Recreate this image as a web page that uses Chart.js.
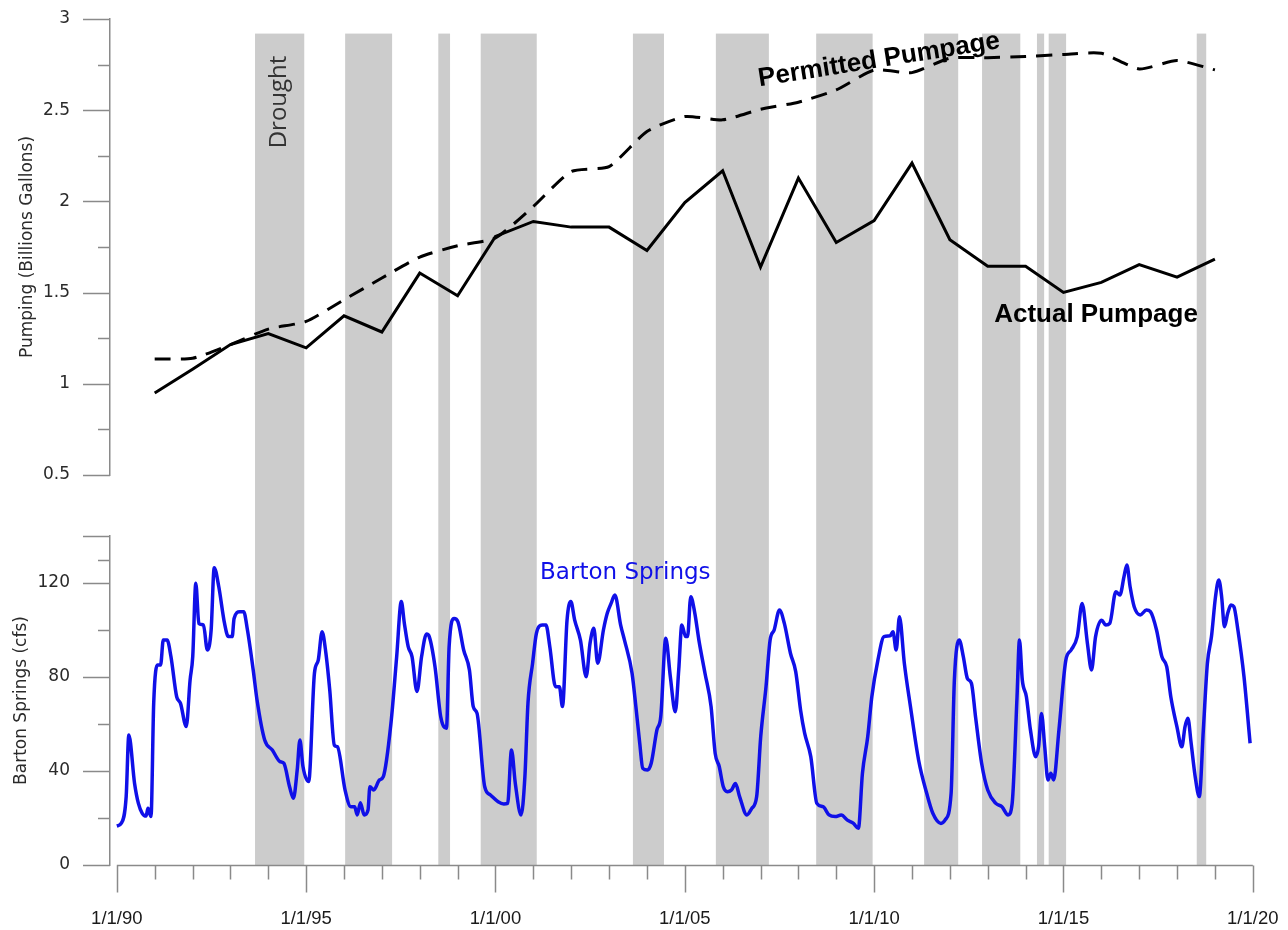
<!DOCTYPE html>
<html>
<head>
<meta charset="utf-8">
<title>Pumping and Barton Springs</title>
<script src="https://cdn.jsdelivr.net/npm/chart.js@4.4.1/dist/chart.umd.min.js"></script>
<style>
  html, body { margin: 0; padding: 0; background: #fff; }
  #wrap { position: relative; width: 1288px; height: 930px; }
</style>
</head>
<body>
<div id="wrap"><canvas id="chart" width="1288" height="930"></canvas></div>
<script>
// yearly pumpage (billions of gallons)
const pumpYears = [1991, 1992, 1993, 1994, 1995, 1996, 1997, 1998, 1999, 2000,
    2001, 2002, 2003, 2004, 2005, 2006, 2007, 2008, 2009, 2010,
    2011, 2012, 2013, 2014, 2015, 2016, 2017, 2018, 2019];
const actualPumpage = [0.95, 1.08, 1.215, 1.275, 1.197, 1.373, 1.284, 1.607, 1.483, 1.808,
    1.89, 1.859, 1.859, 1.731, 1.994, 2.168, 1.64, 2.128, 1.775, 1.895,
    2.21, 1.79, 1.644, 1.644, 1.501, 1.556, 1.653, 1.585, 1.684];
const permittedPumpage = [1.136, 1.14, 1.215, 1.30, 1.342, 1.461, 1.58, 1.695, 1.757, 1.80,
    1.972, 2.164, 2.191, 2.383, 2.465, 2.447, 2.505, 2.544, 2.611, 2.72,
    2.706, 2.785, 2.788, 2.794, 2.806, 2.812, 2.726, 2.772, 2.721];

// Barton Springs discharge (cfs)
const springYears = [
    1990.0, 1990.115, 1990.247, 1990.317, 1990.469, 1990.57, 1990.671, 1990.772, 1990.823, 1990.903,
    1990.974, 1991.075, 1991.156, 1991.227, 1991.328, 1991.429, 1991.581, 1991.682, 1991.834, 1991.935,
    1992.005, 1992.086, 1992.167, 1992.289, 1992.39, 1992.491, 1992.572, 1992.693, 1992.845, 1992.946,
    1993.047, 1993.097, 1993.249, 1993.35, 1993.45, 1993.602, 1993.703, 1993.905, 1994.107, 1994.309,
    1994.41, 1994.562, 1994.663, 1994.764, 1994.835, 1994.916, 1995.067, 1995.219, 1995.32, 1995.421,
    1995.522, 1995.623, 1995.745, 1995.826, 1996.028, 1996.18, 1996.28, 1996.351, 1996.432, 1996.533,
    1996.634, 1996.684, 1996.785, 1996.937, 1997.038, 1997.24, 1997.391, 1997.513, 1997.594, 1997.695,
    1997.796, 1997.927, 1998.049, 1998.18, 1998.251, 1998.403, 1998.554, 1998.706, 1998.776, 1998.908,
    1999.009, 1999.16, 1999.312, 1999.413, 1999.514, 1999.716, 1999.867, 2000.07, 2000.221, 2000.322,
    2000.423, 2000.524, 2000.676, 2000.777, 2000.858, 2000.98, 2001.081, 2001.233, 2001.334, 2001.435,
    2001.586, 2001.688, 2001.769, 2001.89, 2001.991, 2002.092, 2002.244, 2002.396, 2002.497, 2002.598,
    2002.699, 2002.851, 2002.952, 2003.053, 2003.154, 2003.306, 2003.407, 2003.607, 2003.708, 2003.81,
    2003.89, 2004.012, 2004.113, 2004.264, 2004.365, 2004.497, 2004.618, 2004.749, 2004.84, 2004.921,
    2005.022, 2005.073, 2005.157, 2005.265, 2005.372, 2005.533, 2005.694, 2005.802, 2005.909, 2006.017,
    2006.124, 2006.232, 2006.339, 2006.447, 2006.64, 2006.769, 2006.898, 2007.005, 2007.145, 2007.253,
    2007.36, 2007.5, 2007.629, 2007.79, 2007.929, 2008.058, 2008.166, 2008.327, 2008.488, 2008.649,
    2008.81, 2008.971, 2009.133, 2009.294, 2009.455, 2009.584, 2009.691, 2009.831, 2009.939, 2010.1,
    2010.261, 2010.422, 2010.497, 2010.583, 2010.669, 2010.798, 2010.959, 2011.174, 2011.389, 2011.55,
    2011.765, 2011.872, 2012.033, 2012.119, 2012.248, 2012.355, 2012.463, 2012.57, 2012.678, 2012.839,
    2013.0, 2013.215, 2013.376, 2013.537, 2013.645, 2013.774, 2013.838, 2013.913, 2014.021, 2014.128,
    2014.268, 2014.344, 2014.419, 2014.505, 2014.59, 2014.666, 2014.741, 2014.881, 2015.063, 2015.203,
    2015.364, 2015.493, 2015.633, 2015.74, 2015.848, 2016.009, 2016.116, 2016.223, 2016.384, 2016.492,
    2016.599, 2016.674, 2016.76, 2016.868, 2017.029, 2017.19, 2017.297, 2017.458, 2017.598, 2017.727,
    2017.835, 2017.996, 2018.125, 2018.211, 2018.286, 2018.372, 2018.479, 2018.587, 2018.694, 2018.801,
    2018.909, 2019.016, 2019.102, 2019.177, 2019.252, 2019.338, 2019.424, 2019.5, 2019.607, 2019.768,
    2019.929];
const springFlow = [
    16.6, 17.7, 29.1, 55.3, 34.7, 26.2, 22.0, 20.8, 24.1, 20.6,
    68.8, 85.1, 85.1, 95.7, 95.7, 88.7, 71.6, 68.8, 58.9, 78.7,
    88.7, 119.9, 102.8, 102.1, 91.5, 100.0, 126.5, 118.4, 102.8, 97.2,
    97.2, 104.9, 107.8, 107.8, 100.0, 83.0, 70.2, 53.2, 48.9, 44.0,
    43.3, 33.3, 28.4, 40.4, 53.2, 41.9, 35.5, 81.6, 87.2, 99.3,
    90.1, 74.5, 51.0, 50.3, 31.9, 24.8, 24.8, 21.3, 26.5, 21.3,
    23.4, 33.3, 31.9, 36.2, 37.6, 60.3, 88.7, 112.1, 102.8, 92.9,
    88.7, 73.8, 88.7, 98.3, 97.2, 84.4, 63.1, 58.2, 92.9, 104.9,
    103.5, 91.5, 83.0, 67.4, 64.5, 33.3, 29.8, 26.9, 26.0, 26.2,
    48.9, 34.7, 21.3, 37.6, 68.8, 85.8, 98.6, 102.1, 102.1, 92.9,
    75.9, 75.9, 67.4, 104.2, 112.1, 104.2, 95.7, 80.1, 94.3, 100.7,
    85.8, 100.0, 107.1, 111.3, 114.9, 102.1, 95.7, 81.6, 67.4, 51.8,
    41.1, 40.4, 43.3, 57.5, 63.1, 96.5, 80.1, 65.2, 83.0, 102.1,
    97.2, 97.2, 114.2, 107.1, 95.7, 81.6, 67.4, 47.5, 41.9, 33.3,
    31.2, 31.9, 34.7, 29.1, 21.3, 24.1, 29.1, 54.6, 75.9, 95.7,
    100.0, 108.5, 102.8, 90.1, 82.3, 65.9, 56.0, 46.1, 26.2, 24.8,
    21.3, 20.6, 21.3, 19.1, 17.7, 15.6, 39.0, 54.6, 71.6, 87.2,
    97.2, 97.5, 99.3, 91.5, 105.6, 85.8, 67.4, 44.7, 30.5, 22.0,
    17.7, 19.1, 30.5, 78.7, 95.7, 88.7, 79.4, 77.3, 63.1, 43.3,
    31.9, 26.2, 24.8, 21.3, 26.2, 71.6, 95.7, 78.7, 71.6, 57.5,
    46.1, 50.4, 64.5, 50.4, 36.2, 39.0, 36.2, 57.5, 87.2, 91.5,
    97.2, 111.3, 94.3, 83.0, 97.2, 104.2, 102.1, 102.8, 116.3, 114.9,
    122.7, 127.7, 118.4, 109.9, 106.4, 108.5, 107.8, 100.0, 88.7, 84.4,
    71.6, 58.9, 50.3, 58.9, 62.4, 51.8, 37.6, 29.1, 57.5, 85.8,
    97.2, 114.2, 121.3, 114.2, 101.4, 107.1, 110.6, 109.9, 100.0, 80.1,
    51.8];

// drought periods (decimal years)
const droughtStart = [1993.65, 1996.03, 1998.49, 1999.61, 2003.63, 2005.82, 2008.47, 2011.32, 2012.85, 2014.30, 2014.61, 2018.52];
const droughtEnd   = [1994.95, 1997.27, 1998.80, 2001.09, 2004.45, 2007.22, 2009.96, 2012.22, 2013.86, 2014.49, 2015.07, 2018.77];

// tick labels
const xTickYears = [1990, 1995, 2000, 2005, 2010, 2015, 2020];
const pumpTicks = [0.5, 1, 1.5, 2, 2.5, 3];
const springTicks = [0, 40, 80, 120];

const axisGray = '#8a8a8a';
const textGray = '#2a2a2a';
const springBlue = '#1010e8';

function pairs(xs, ys) {
    return xs.map((x, i) => ({x: x, y: ys[i]}));
}

// shaded drought bars, through both panels
const droughtBands = {
    id: 'droughtBands',
    beforeDatasetsDraw(chart) {
        const {ctx, scales} = chart;
        const top = scales.yPump.getPixelForValue(2.92);
        const bottom = scales.ySpring.getPixelForValue(0);
        ctx.save();
        ctx.fillStyle = '#cccccc';
        droughtStart.forEach((s, i) => {
            const x1 = scales.x.getPixelForValue(s);
            const x2 = scales.x.getPixelForValue(droughtEnd[i]);
            ctx.fillRect(x1, top, x2 - x1, bottom - top);
        });
        ctx.restore();
    }
};

// major / minor tick marks and the bottom axis line
const axisTicks = {
    id: 'axisTicks',
    afterDraw(chart) {
        const {ctx, scales} = chart;
        const xs = scales.x;
        const base = scales.ySpring.getPixelForValue(0) + 0.5;
        ctx.save();
        ctx.strokeStyle = axisGray;
        ctx.lineWidth = 1.5;
        ctx.beginPath();
        ctx.moveTo(xs.getPixelForValue(1990), base);
        ctx.lineTo(xs.getPixelForValue(2020), base);
        for (let yr = 1990; yr <= 2020; yr++) {
            const px = Math.round(xs.getPixelForValue(yr)) + 0.5;
            ctx.moveTo(px, base);
            ctx.lineTo(px, base + (yr % 5 === 0 ? 27 : 14));
        }
        const yTicks = (scale, majors) => {
            const ax = scale.right;
            majors.forEach((v, i) => {
                let py = Math.round(scale.getPixelForValue(v)) + 0.5;
                ctx.moveTo(ax - 27, py);
                ctx.lineTo(ax, py);
                const next = i + 1 < majors.length ? majors[i + 1] : scale.max;
                if (next > v) {
                    py = Math.round(scale.getPixelForValue((v + next) / 2)) + 0.5;
                    ctx.moveTo(ax - 12, py);
                    ctx.lineTo(ax, py);
                }
            });
        };
        yTicks(scales.yPump, pumpTicks);
        yTicks(scales.ySpring, springTicks.concat([140]));
        ctx.stroke();
        ctx.restore();
    }
};

// text labels placed in data coordinates
const chartLabels = {
    id: 'chartLabels',
    afterDatasetsDraw(chart) {
        const {ctx, scales} = chart;
        const put = (text, xv, yScale, yv, font, color, angle) => {
            ctx.save();
            ctx.translate(scales.x.getPixelForValue(xv), yScale.getPixelForValue(yv));
            ctx.rotate(angle * Math.PI / 180);
            ctx.font = font;
            ctx.fillStyle = color;
            ctx.textAlign = 'center';
            ctx.textBaseline = 'middle';
            ctx.fillText(text, 0, 0);
            ctx.restore();
        };
        put('Drought', 1994.29, scales.yPump, 2.545, '24px "Open Sans"', '#333', -90);
        put('Permitted Pumpage', 2010.13, scales.yPump, 2.775, 'bold 26px "Liberation Sans"', '#000', -9);
        put('Actual Pumpage', 2015.86, scales.yPump, 1.377, 'bold 26px "Liberation Sans"', '#000', 0);
        put('Barton Springs', 2003.43, scales.ySpring, 124.3, '23px "DejaVu Sans"', springBlue, 0);
    }
};

const tickFont = {family: '"DejaVu Sans"', size: 17};
const titleFont = {family: '"DejaVu Sans"', size: 17};
// invisible tick marks only reserve the room between axis line and label
const hiddenTickGrid = len => ({display: true, drawOnChartArea: false, drawTicks: true,
                                 tickLength: len, tickColor: 'rgba(0,0,0,0)'});

new Chart(document.getElementById('chart').getContext('2d'), {
    type: 'line',
    data: {
        datasets: [
            {
                label: 'Barton Springs',
                data: pairs(springYears, springFlow),
                yAxisID: 'ySpring',
                borderColor: springBlue,
                borderWidth: 3.5,
                cubicInterpolationMode: 'monotone',
                pointRadius: 0,
                fill: false
            },
            {
                label: 'Actual Pumpage',
                data: pairs(pumpYears, actualPumpage),
                yAxisID: 'yPump',
                borderColor: '#000',
                borderWidth: 3,
                pointRadius: 0,
                tension: 0,
                fill: false
            },
            {
                label: 'Permitted Pumpage',
                data: pairs(pumpYears, permittedPumpage),
                yAxisID: 'yPump',
                borderColor: '#000',
                borderWidth: 3,
                borderDash: [16, 10],
                pointRadius: 0,
                tension: 0.2,
                fill: false
            }
        ]
    },
    options: {
        responsive: false,
        animation: false,
        devicePixelRatio: 1,
        layout: {padding: {top: 19, right: 28.4, bottom: 0, left: 0}},
        plugins: {legend: {display: false}, tooltip: {enabled: false}},
        scales: {
            x: {
                type: 'linear',
                position: 'bottom',
                min: 1989.82,
                max: 2020.18,
                grid: hiddenTickGrid(40),
                border: {display: false},
                afterBuildTicks: s => { s.ticks = xTickYears.map(v => ({value: v})); },
                afterFit: s => { s.height = 65; },
                ticks: {
                    padding: 3,
                    autoSkip: false,
                    maxRotation: 0,
                    color: '#1a1a1a',
                    font: {family: '"Liberation Sans"', size: 18.5},
                    callback: v => '1/1/' + String(v).slice(2)
                }
            },
            yPump: {
                type: 'linear',
                position: 'left',
                stack: 'panels',
                stackWeight: 456,
                weight: 3,
                min: 0.5,
                max: 3,
                grid: hiddenTickGrid(36),
                border: {display: true, color: axisGray, width: 1.5},
                afterBuildTicks: s => { s.ticks = pumpTicks.map(v => ({value: v})); },
                afterFit: s => { s.width = 110; },
                ticks: {padding: 4, color: textGray, font: tickFont, callback: v => String(v)},
                title: {display: true, text: 'Pumping (Billions Gallons)', color: textGray,
                        font: titleFont, padding: {top: 17, bottom: 0}}
            },
            yGap: {
                type: 'linear',
                position: 'left',
                stack: 'panels',
                stackWeight: 61,
                weight: 2,
                grid: {display: false, drawTicks: false},
                border: {display: false},
                ticks: {display: false},
                afterFit: s => { s.width = 110; }
            },
            ySpring: {
                type: 'linear',
                position: 'left',
                stack: 'panels',
                stackWeight: 329,
                weight: 1,
                min: 0,
                max: 140,
                grid: hiddenTickGrid(36),
                border: {display: true, color: axisGray, width: 1.5},
                afterBuildTicks: s => { s.ticks = springTicks.map(v => ({value: v})); },
                afterFit: s => { s.width = 110; },
                ticks: {padding: 4, color: textGray, font: tickFont, callback: v => String(v)},
                title: {display: true, text: 'Barton Springs (cfs)', color: textGray,
                        font: titleFont, padding: {top: 11, bottom: 0}}
            }
        }
    },
    plugins: [droughtBands, axisTicks, chartLabels]
});
</script>
</body>
</html>
